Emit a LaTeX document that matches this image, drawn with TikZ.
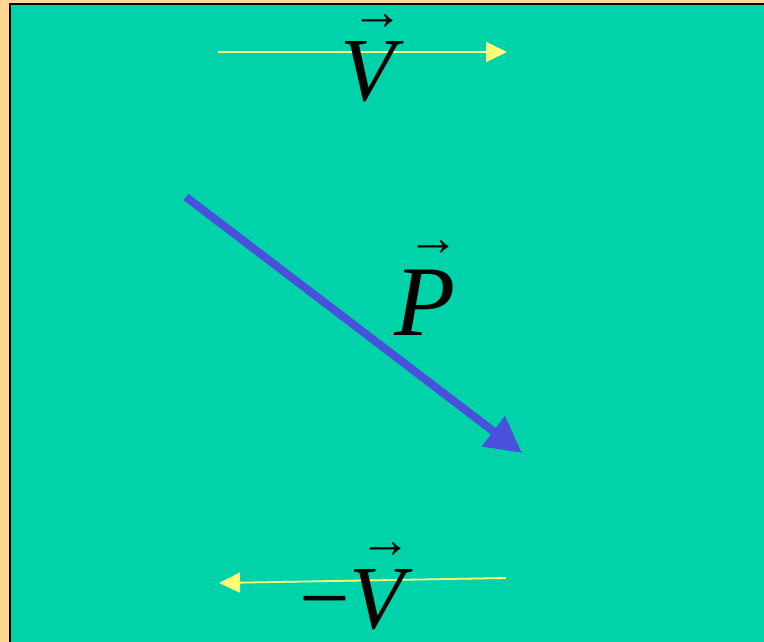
\documentclass[tikz,border=0pt]{standalone}
\usepackage{fontspec}
\setmainfont{Liberation Serif}
\usetikzlibrary{arrows.meta}
\definecolor{sea}{RGB}{0,211,170}
\definecolor{sand}{RGB}{255,216,144}
\definecolor{pale}{RGB}{255,255,120}
\definecolor{violet}{RGB}{72,80,220}

\begin{document}
\begin{tikzpicture}[x=1pt,y=-1pt,
  letter/.style={font=\fontsize{90}{90}\selectfont\itshape, inner sep=0pt, anchor=base},
  hat/.style={font=\fontsize{52}{52}\selectfont\bfseries, inner sep=0pt},
  thin arrow/.style={pale, line width=1.8pt, -{Triangle[length=21pt,width=20pt]}},
  fat arrow/.style={violet, line width=8pt, -{Triangle[length=36pt,width=36pt]}}]
\useasboundingbox (0,0) rectangle (764,642);
% frame
\fill [sand] (0,0) rectangle (764,642);
\fill [sea] (10,4) rectangle (764,642);
\draw [line width=2pt] (10,642) -- (10,4) -- (764,4);
% velocity
\coordinate (vtail) at (218,52);
\coordinate (vtip) at (507,52);
\draw [thin arrow] (vtail) -- (vtip);
\node [letter] (vup) at (368,100) {V};
\node [hat] (vuphat) at (377,22) {→};
% momentum
\coordinate (ptail) at (186,197);
\coordinate (ptip) at (522,453);
\draw [fat arrow] (ptail) -- (ptip);
\node [letter, font=\fontsize{100}{100}\selectfont\itshape] (pmom) at (425,335) {P};
\node [hat] (pmomhat) at (433,248) {→};
% minus velocity
\coordinate (wtail) at (506,578);
\coordinate (wtip) at (219,583);
\draw [thin arrow] (wtail) -- (wtip);
\node [letter] (vdown) at (352,628) {\upshape −\itshape V};
\node [hat] (vdownhat) at (385,550) {→};
\end{tikzpicture}
\end{document}
